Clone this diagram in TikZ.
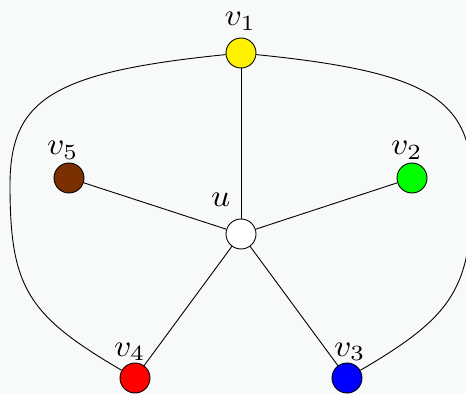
\documentclass[tikz,border=0pt]{standalone}
\begin{document}
\begin{tikzpicture}[x=1pt,y=1pt,
  vtx/.style={circle,draw=black,line width=0.9pt,minimum size=30pt,inner sep=0pt},
  lbl/.style={anchor=base west,inner sep=0pt,xscale=3.35,yscale=3.1,font=\fontsize{10}{12}\selectfont},
  edge/.style={line width=0.9pt}]
\definecolor{bgc}{RGB}{248,250,250}
\definecolor{vbrown}{RGB}{122,48,0}
\fill[bgc] (0,0) rectangle (466,394);
\useasboundingbox (0,0) rectangle (466,394);
\node[vtx,fill=white] (u) at (241,160) {};
\node[vtx,fill=yellow] (v1) at (241,341) {};
\node[vtx,fill=green] (v2) at (412,216) {};
\node[vtx,fill=blue] (v3) at (347,16) {};
\node[vtx,fill=red] (v4) at (135,16) {};
\node[vtx,fill=vbrown] (v5) at (69,216) {};
\node[lbl] (lu) at (210.5,187) {$u$};
\node[lbl] (l1) at (224,368) {$v_1$};
\node[lbl] (l2) at (390.5,239) {$v_2$};
\node[lbl] (l3) at (333.5,38) {$v_3$};
\node[lbl] (l4) at (113.5,38) {$v_4$};
\node[lbl] (l5) at (46.5,239) {$v_5$};
\draw[edge] (u) -- (v1);
\draw[edge] (u) -- (v2);
\draw[edge] (u) -- (v3);
\draw[edge] (u) -- (v4);
\draw[edge] (u) -- (v5);
\coordinate (L) at (10,209);
\coordinate (R) at (472,209);
\draw[edge] (v1.186) .. controls (53,322) and (10,295) .. (L)
  .. controls (10,107) and (27,79) .. (v4.150);
\draw[edge] (v1.354) .. controls (429,322) and (472,295) .. (R)
  .. controls (472,107) and (455,79) .. (v3.30);
\end{tikzpicture}
\end{document}
